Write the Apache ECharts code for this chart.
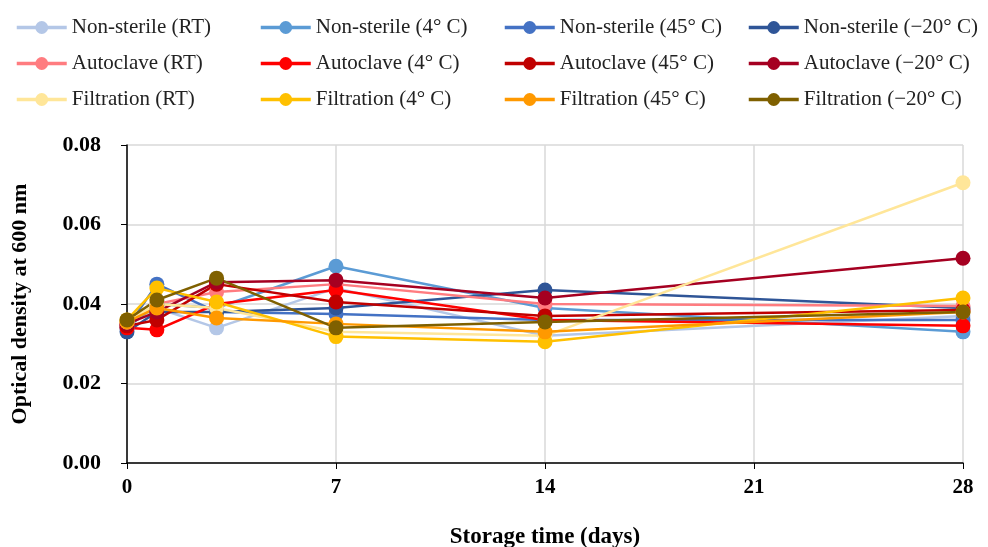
<!DOCTYPE html>
<html>
<head>
<meta charset="utf-8">
<script src="https://cdn.jsdelivr.net/npm/echarts@6/dist/echarts.min.js"></script>
<style>
  html, body { margin: 0; padding: 0; background: #fff; }
  #chart { width: 988px; height: 547px; }
</style>
</head>
<body>
<div id="chart"></div>
<script>
// storage days where OD was measured
const days = [0, 1, 3, 7, 14, 28];

const names = [
  'Non-sterile (RT)', 'Non-sterile (4° C)', 'Non-sterile (45° C)', 'Non-sterile (\u221220° C)',
  'Autoclave (RT)', 'Autoclave (4° C)', 'Autoclave (45° C)', 'Autoclave (\u221220° C)',
  'Filtration (RT)', 'Filtration (4° C)', 'Filtration (45° C)', 'Filtration (\u221220° C)'
];
const colors = [
  '#b4c7e7', '#5b9bd5', '#4472c4', '#2f5597',
  '#ff7c80', '#ff0000', '#c00000', '#a50021',
  '#ffe699', '#ffc000', '#ff9900', '#7f6000'
];

// OD600 per series (same order as names)
const nsRT   = [0.035, 0.039, 0.034, 0.044, 0.032, 0.037];
const ns4    = [0.034, 0.040, 0.039, 0.0495, 0.039, 0.033];
const ns45   = [0.034, 0.045, 0.038, 0.0375, 0.036, 0.036];
const nsM20  = [0.033, 0.038, 0.038, 0.039, 0.0435, 0.039];
const acRT   = [0.035, 0.040, 0.043, 0.045, 0.040, 0.0395];
const ac4    = [0.034, 0.0335, 0.040, 0.0435, 0.036, 0.0345];
const ac45   = [0.0345, 0.036, 0.045, 0.0405, 0.037, 0.0385];
const acM20  = [0.035, 0.038, 0.0455, 0.046, 0.0415, 0.0515];
const fiRT   = [0.0355, 0.040, 0.039, 0.033, 0.032, 0.0705];
const fi4    = [0.036, 0.044, 0.0405, 0.0318, 0.0305, 0.0415];
const fi45   = [0.0355, 0.039, 0.0365, 0.035, 0.033, 0.038];
const fiM20  = [0.036, 0.041, 0.0465, 0.034, 0.0355, 0.038];

const values = [nsRT, ns4, ns45, nsM20, acRT, ac4, ac45, acM20, fiRT, fi4, fi45, fiM20];

const yTicks = [0, 0.02, 0.04, 0.06, 0.08];
const xTicks = [0, 7, 14, 21, 28];

const font = '"Liberation Serif", "DejaVu Serif", serif';

const series = names.map((n, i) => ({
  name: n,
  type: 'line',
  data: days.map((d, j) => [d, values[i][j]]),
  symbol: 'circle',
  symbolSize: 15,
  lineStyle: { width: 2.5, color: colors[i] },
  itemStyle: { color: colors[i] },
  emphasis: { disabled: true }
}));

// one vertical legend per column so the columns line up like the original
const colLeft = [10, 254, 498, 742];
const legends = colLeft.map((left, c) => ({
  orient: 'vertical',
  left: left,
  top: 12,
  itemGap: 15,
  itemWidth: 50,
  itemHeight: 16,
  itemStyle: { borderWidth: 0 },
  lineStyle: { width: 3.5 },
  data: [names[c], names[c + 4], names[c + 8]],
  textStyle: { fontFamily: font, fontSize: 21, color: '#222' },
  selectedMode: false
}));

const chart = echarts.init(document.getElementById('chart'));
chart.setOption({
  animation: false,
  color: colors,
  legend: legends,
  grid: { left: 127, right: 25, top: 145, bottom: 84, outerBoundsMode: 'none', containLabel: false },
  xAxis: {
    type: 'value',
    min: 0, max: 28, interval: 7,
    name: 'Storage time (days)',
    nameLocation: 'middle',
    nameGap: 63,
    nameTextStyle: { fontFamily: font, fontSize: 23, fontWeight: 'bold', color: '#000' },
    axisLine: { lineStyle: { color: '#000', width: 1.5 } },
    axisTick: { show: true, length: 6, lineStyle: { color: '#000' } },
    axisLabel: {
      fontFamily: font, fontSize: 21, fontWeight: 'bold', color: '#000', margin: 14,
      formatter: v => xTicks.includes(v) ? String(v) : ''
    },
    splitLine: { show: true, lineStyle: { color: '#d9d9d9', width: 1.5 } }
  },
  yAxis: {
    type: 'value',
    min: 0, max: 0.08, interval: 0.02,
    name: 'Optical density at 600 nm',
    nameLocation: 'middle',
    nameGap: 96,
    nameTextStyle: { fontFamily: font, fontSize: 22, fontWeight: 'bold', color: '#000' },
    axisLine: { show: true, lineStyle: { color: '#000', width: 1.5 } },
    axisTick: { show: true, length: 6, lineStyle: { color: '#000' } },
    axisLabel: {
      fontFamily: font, fontSize: 22, fontWeight: 'bold', color: '#000', margin: 26,
      formatter: v => yTicks.some(t => Math.abs(t - v) < 1e-9) ? v.toFixed(2) : ''
    },
    splitLine: { show: true, lineStyle: { color: '#d9d9d9', width: 1.5 } }
  },
  series: series
});
</script>
</body>
</html>
